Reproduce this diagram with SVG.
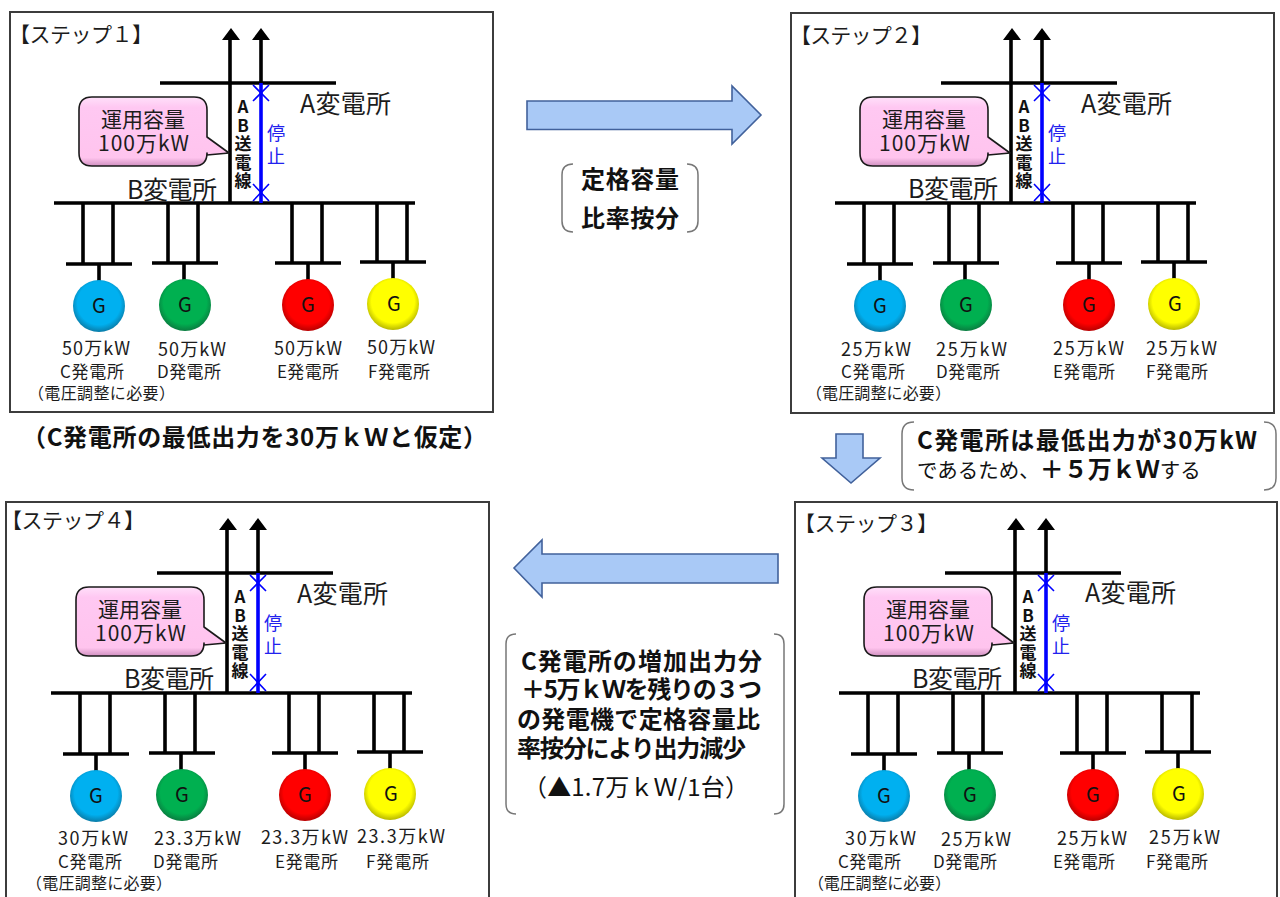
<svg xmlns="http://www.w3.org/2000/svg" xmlns:xlink="http://www.w3.org/1999/xlink" width="1280" height="897" viewBox="0 0 1280 897">
<style>
text{font-family:"Noto Sans CJK JP","Noto Sans",sans-serif;fill:#1c1c1c}
.frame{fill:#fff;stroke:#3c3c3c;stroke-width:2}
.ln{fill:none;stroke:#000;stroke-width:3.6}
.blue{fill:none;stroke:#0000ff;stroke-width:3.6}
.x{fill:none;stroke:#0000ff;stroke-width:1.6}
.head{fill:#000}
.call{fill:url(#pink);stroke:#1a1a1a;stroke-width:1.6;stroke-linejoin:round}
.arrow{fill:#a9c9f6;stroke:#41619b;stroke-width:1.6}
.br{fill:none;stroke:#777;stroke-width:1.5}
.step{font-size:21px}
.sub{font-size:25px}
.cap{font-size:21px}
.ab{font-size:17px;font-weight:700;fill:#111;writing-mode:vertical-rl;text-orientation:upright;letter-spacing:1.5px}
.stop{font-size:18px;fill:#2222ee;writing-mode:vertical-rl;letter-spacing:5px}
.g{font-size:20px;text-anchor:middle;fill:#111}
.mw{font-size:18px}
.pl{font-size:17px}
.nt{font-size:16px}
.b{font-weight:700;font-size:24px;fill:#111}
.r{font-weight:400}
.s{font-weight:400;font-size:20.5px}
</style>
<defs>
<radialGradient id="gb" cx="50%" cy="45%" r="55%"><stop offset="0.75" stop-color="#00b0f0"/><stop offset="1" stop-color="#0a7ca8"/></radialGradient>
<radialGradient id="gg" cx="50%" cy="45%" r="55%"><stop offset="0.75" stop-color="#00b050"/><stop offset="1" stop-color="#0a7c40"/></radialGradient>
<radialGradient id="gr" cx="50%" cy="45%" r="55%"><stop offset="0.75" stop-color="#ff0000"/><stop offset="1" stop-color="#b80000"/></radialGradient>
<radialGradient id="gy" cx="50%" cy="45%" r="55%"><stop offset="0.75" stop-color="#ffff00"/><stop offset="1" stop-color="#b8b800"/></radialGradient>
<linearGradient id="pink" x1="0" y1="0" x2="0" y2="1"><stop offset="0" stop-color="#ffe0fa"/><stop offset="0.15" stop-color="#ffc8f2"/><stop offset="0.88" stop-color="#ffc4ee"/><stop offset="1" stop-color="#d090c0"/></linearGradient>
<g id="grid">
<path class="ln" d="M160 83H336M54 203H415M230 36V203M261 36V83"/>
<path class="head" d="M231 28L240 40H222ZM261 28L270 40H252Z"/>
<path class="blue" d="M261 83V203"/>
<path class="x" d="M253 85L269 101M269 85L253 101M253 184L269 201M269 184L253 201"/>
<path class="call" d="M92 97H194Q207 97 207 110V137L229 153L207 155V153Q207 166 194 166H92Q79 166 79 153V110Q79 97 92 97Z"/>
<path class="ln" d="M83 203V264M113 203V264M66 264H132M99 264V282"/>
<path class="ln" d="M168 203V263M198 203V263M152 263H218M184 263V281"/>
<path class="ln" d="M292 203V263M322 203V263M275 263H341M308 263V280"/>
<path class="ln" d="M377 203V262M407 203V262M360 262H426M393 262V279"/>
<circle cx="99" cy="306" r="26" fill="url(#gb)"/>
<circle cx="185" cy="305" r="26" fill="url(#gg)"/>
<circle cx="308" cy="305" r="26" fill="url(#gr)"/>
<circle cx="393" cy="304" r="26" fill="url(#gy)"/>
</g>
</defs>
<rect width="1280" height="897" fill="#fff"/>

<g id="step1">
<rect class="frame" x="10" y="12" width="483" height="400"/>
<use xlink:href="#grid" href="#grid"/>
<text class="step" x="9" y="42" textLength="144">【ステップ１】</text>
<text class="sub" x="300" y="113" textLength="91">A変電所</text>
<text class="sub" x="127" y="199" textLength="90">B変電所</text>
<text class="cap"><tspan x="101" y="127" textLength="84">運用容量</tspan><tspan x="98" y="151" textLength="91">100万kW</tspan></text>
<text class="ab" x="243" y="98.500">AB送電線</text>
<text class="stop" x="276" y="124">停止</text>
<text class="g"><tspan x="99" y="313">G</tspan><tspan x="185" y="312">G</tspan><tspan x="308" y="312">G</tspan><tspan x="394" y="311">G</tspan></text>
<text class="mw" x="62" y="355" textLength="68">50万kW</text><text class="mw" x="158" y="356" textLength="68">50万kW</text><text class="mw" x="274" y="355" textLength="68">50万kW</text><text class="mw" x="367" y="354" textLength="68">50万kW</text>
<text class="pl" x="60" y="378" textLength="64">C発電所</text><text class="pl" x="157" y="378" textLength="64">D発電所</text><text class="pl" x="277" y="378" textLength="62">E発電所</text><text class="pl" x="368" y="378" textLength="62">F発電所</text>
<text class="nt" x="28" y="399" textLength="147">（電圧調整に必要）</text>
</g>

<g id="step2">
<rect class="frame" x="791" y="13" width="483" height="400"/>
<use xlink:href="#grid" href="#grid" transform="translate(781 0)"/>
<text class="step" x="790" y="43" textLength="142">【ステップ２】</text>
<text class="sub" x="1081" y="113" textLength="91">A変電所</text>
<text class="sub" x="908" y="198" textLength="90">B変電所</text>
<text class="cap"><tspan x="882" y="127" textLength="84">運用容量</tspan><tspan x="879" y="151" textLength="91">100万kW</tspan></text>
<text class="ab" x="1024" y="98.500">AB送電線</text>
<text class="stop" x="1057" y="124">停止</text>
<text class="g"><tspan x="880" y="313">G</tspan><tspan x="966" y="312">G</tspan><tspan x="1089" y="312">G</tspan><tspan x="1175" y="311">G</tspan></text>
<text class="mw" x="841" y="356" textLength="70">25万kW</text><text class="mw" x="936" y="356" textLength="71">25万kW</text><text class="mw" x="1053" y="355" textLength="71">25万kW</text><text class="mw" x="1146" y="355" textLength="71">25万kW</text>
<text class="pl" x="841" y="378" textLength="64">C発電所</text><text class="pl" x="936" y="378" textLength="64">D発電所</text><text class="pl" x="1053" y="378" textLength="62">E発電所</text><text class="pl" x="1146" y="378" textLength="62">F発電所</text>
<text class="nt" x="806" y="399" textLength="145">（電圧調整に必要）</text>
</g>

<g id="step3">
<rect class="frame" x="795" y="502" width="482" height="400"/>
<use xlink:href="#grid" href="#grid" transform="translate(785 490)"/>
<text class="step" x="794" y="531" textLength="144">【ステップ３】</text>
<text class="sub" x="1085" y="602" textLength="91">A変電所</text>
<text class="sub" x="912" y="688" textLength="90">B変電所</text>
<text class="cap"><tspan x="886" y="617" textLength="84">運用容量</tspan><tspan x="883" y="641" textLength="91">100万kW</tspan></text>
<text class="ab" x="1028" y="588.500">AB送電線</text>
<text class="stop" x="1061" y="614">停止</text>
<text class="g"><tspan x="884" y="803">G</tspan><tspan x="970" y="802">G</tspan><tspan x="1093" y="802">G</tspan><tspan x="1179" y="801">G</tspan></text>
<text class="mw" x="845" y="845" textLength="71">30万kW</text><text class="mw" x="941" y="846" textLength="70">25万kW</text><text class="mw" x="1057" y="845" textLength="70">25万kW</text><text class="mw" x="1149" y="844" textLength="71">25万kW</text>
<text class="pl" x="838" y="868" textLength="63">C発電所</text><text class="pl" x="933" y="868" textLength="64">D発電所</text><text class="pl" x="1053" y="868" textLength="62">E発電所</text><text class="pl" x="1146" y="868" textLength="62">F発電所</text>
<text class="nt" x="808" y="889" textLength="143">（電圧調整に必要）</text>
</g>

<g id="step4">
<rect class="frame" x="6" y="502" width="483" height="400"/>
<use xlink:href="#grid" href="#grid" transform="translate(-3 490)"/>
<text class="step" x="1" y="528" textLength="144">【ステップ４】</text>
<text class="sub" x="297" y="603" textLength="91">A変電所</text>
<text class="sub" x="124" y="688" textLength="90">B変電所</text>
<text class="cap"><tspan x="98" y="617" textLength="84">運用容量</tspan><tspan x="95" y="641" textLength="91">100万kW</tspan></text>
<text class="ab" x="240" y="588.500">AB送電線</text>
<text class="stop" x="273" y="614">停止</text>
<text class="g"><tspan x="96" y="803">G</tspan><tspan x="182" y="802">G</tspan><tspan x="305" y="802">G</tspan><tspan x="391" y="801">G</tspan></text>
<text class="mw" x="58" y="845" textLength="70">30万kW</text><text class="mw" x="154" y="845" textLength="87">23.3万kW</text><text class="mw" x="261" y="844" textLength="87">23.3万kW</text><text class="mw" x="357" y="843" textLength="88">23.3万kW</text>
<text class="pl" x="58" y="868" textLength="64">C発電所</text><text class="pl" x="153" y="868" textLength="65">D発電所</text><text class="pl" x="275" y="868" textLength="63">E発電所</text><text class="pl" x="366" y="868" textLength="63">F発電所</text>
<text class="nt" x="26" y="889" textLength="146">（電圧調整に必要）</text>
</g>

<g id="connectors">
<path class="arrow" d="M527 101H732V86L761 115L732 144V129.500H527Z"/>
<path class="arrow" d="M836 434H863V458H880L851 483L822 458H836Z"/>
<path class="arrow" d="M778 554H542V540L514 568L542 597V583H778Z"/>
</g>

<g id="note-ratio">
<path class="br" d="M573 164Q562 164 562 175V221Q562 232 573 232M687 164Q698 164 698 175V221Q698 232 687 232"/>
<text class="b" x="581" y="188" textLength="98">定格容量</text>
<text class="b" x="581" y="227" textLength="98">比率按分</text>
</g>

<g id="note-assume">
<text class="b" x="22" y="446" textLength="465">（C発電所の最低出力を30万ｋＷと仮定）</text>
</g>

<g id="note-min">
<path class="br" d="M914 422Q902 422 902 434V478Q902 490 914 490M1264 422Q1276 422 1276 434V478Q1276 490 1264 490"/>
<text class="b" x="917" y="449" textLength="340">C発電所は最低出力が30万kW</text>
<text class="b" x="917" y="478"><tspan class="s">であるため、</tspan>＋５万ｋＷ<tspan class="s">する</tspan></text>
</g>

<g id="note-reduce">
<path class="br" d="M516 634Q506 634 506 644V804Q506 814 516 814M774 634Q784 634 784 644V804Q784 814 774 814"/>
<text class="b" x="521" y="670" textLength="241">C発電所の増加出力分</text>
<text class="b" x="521" y="698" textLength="241">＋5万ｋＷを残りの３つ</text>
<text class="b" x="517" y="728" textLength="243">の発電機で定格容量比</text>
<text class="b" x="517" y="757" textLength="229">率按分により出力減少</text>
<text class="b r" x="523" y="796" textLength="226">（▲1.7万ｋＷ/1台）</text>
</g>
</svg>
